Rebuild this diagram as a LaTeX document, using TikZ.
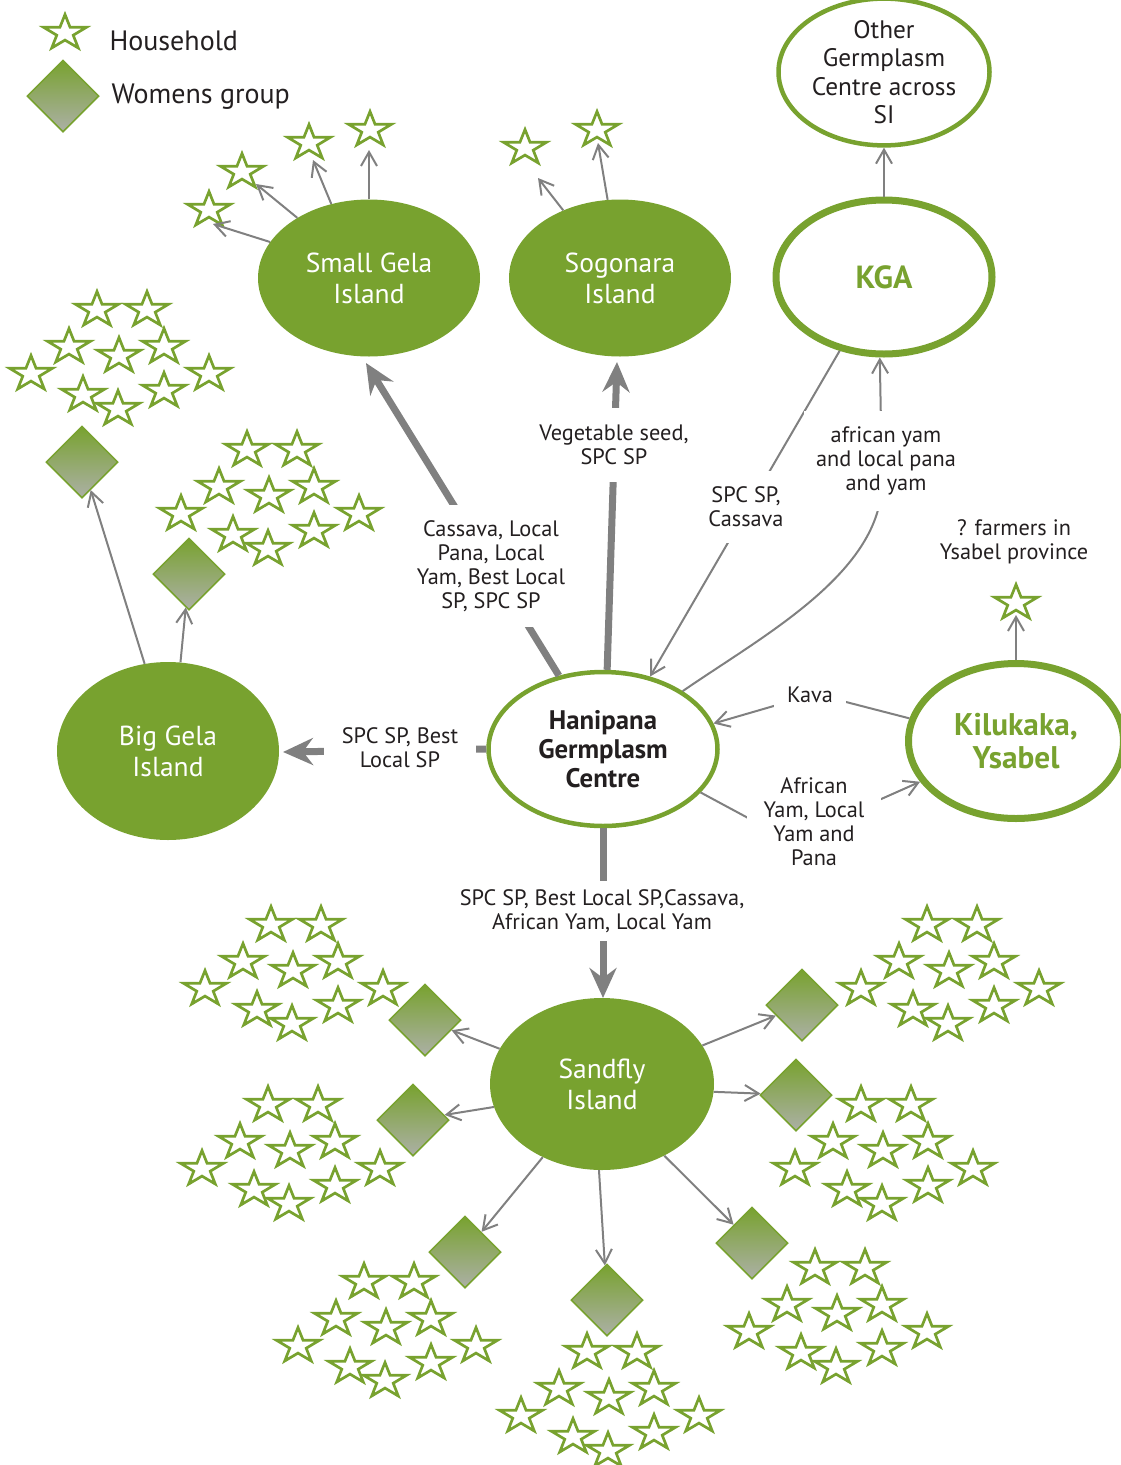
\documentclass[tikz,border=0pt]{standalone}
\usepackage{fontspec}
\setmainfont{PT Sans}
\usetikzlibrary{shapes.geometric,arrows.meta}
\definecolor{leaf}{RGB}{120,162,47}
\definecolor{arrowgray}{RGB}{128,128,128}
\definecolor{ink}{RGB}{35,31,32}
\definecolor{dimgreen}{RGB}{172,176,166}

% ten households around a womens group
\newcommand\starcluster[3]{%
  \foreach \dx/\dy [count=\i] in {0/0,50/0,-28/37,22/46,67/37,-66/64,112/64,-14/85,21/99,67/81}
    {\pic (#1\i) at ({#2+\dx},{#3+\dy}) {hstar};}}

\begin{document}
\begin{tikzpicture}[x=1pt,y=-1pt,
  starline/.style={draw=leaf, line width=2.7pt, fill=white, line join=miter},
  hstar/.pic={\path[starline] plot[samples at={0,...,9}, variable=\k]
      ({1.22*(7.1+11.4*(1-mod(\k,2)))*cos(90+36*\k)}, {-(7.1+11.4*(1-mod(\k,2)))*sin(90+36*\k)}) -- cycle;
      \coordinate (-c) at (0,0);},
  island/.style={ellipse, fill=leaf, text=white, align=center, inner sep=0,
      minimum width=222pt, minimum height=157pt, font=\fontsize{27.5}{31}\selectfont},
  hub/.style={ellipse, draw=leaf, fill=white, align=center, inner sep=0},
  group/.style={diamond, draw=leaf, line width=1.5pt, top color=leaf, bottom color=dimgreen,
      minimum width=72pt, minimum height=72pt, inner sep=0},
  lbl/.style={text=ink, align=center, font=\fontsize{22.3}{24}\selectfont, fill=white, inner sep=12pt},
  flow/.style={draw=arrowgray, line width=2pt, -{Straight Barb[length=14pt,width=16pt]}},
  bigflow/.style={draw=arrowgray, line width=7pt, -{Stealth[length=30pt,width=27pt,inset=10pt]}},
]
\useasboundingbox (0,0) rectangle (1120,1465);

% legend
\pic (legstar) at (65,33) {hstar};
\node[anchor=west, text=ink, font=\fontsize{28}{30}\selectfont] (leghh) at (106,41) {Household};
\node[group] (leggrp) at (63,96) {};
\node[anchor=west, text=ink, font=\fontsize{28}{30}\selectfont] (leggrptxt) at (108,97) {Womens group};

% islands and centres
\node[island] (small) at (369,278) {Small Gela\\Island};
\node[island] (sogo) at (620,278) {Sogonara\\Island};
\node[island, minimum height=178pt] (big) at (168,751) {Big Gela\\Island};
\node[island, minimum width=224pt, minimum height=172pt] (sand) at (602,1084) {Sandfly\\Island};
\node[hub, line width=7pt, minimum width=216pt, minimum height=154pt, text=leaf,
      font=\bfseries\fontsize{32}{33}\selectfont] (kga) at (884,277) {KGA};
\node[hub, line width=4.5pt, minimum width=211pt, minimum height=137pt, text=ink,
      font=\fontsize{25.3}{28.5}\selectfont] (other) at (884,72) {Other\\Germplasm\\Centre across\\SI};
\node[hub, line width=4.5pt, minimum width=229pt, minimum height=154pt, text=ink,
      font=\bfseries\fontsize{26.8}{29}\selectfont] (hani) at (603,749) {Hanipana\\Germplasm\\Centre};
\node[hub, line width=7pt, minimum width=215pt, minimum height=155pt, text=leaf,
      font=\bfseries\fontsize{31.3}{33}\selectfont] (kilu) at (1016,741) {Kilukaka,\\Ysabel};

% single households
\pic (sgA) at (209,210) {hstar};
\pic (sgB) at (242,172) {hstar};
\pic (sgC) at (309,143) {hstar};
\pic (sgD) at (370,130) {hstar};
\pic (soA) at (525,148) {hstar};
\pic (soB) at (597,130) {hstar};
\pic (ysA) at (1016,603) {hstar};

% womens groups
\node[group] (bg1) at (82,462) {};
\node[group] (bg2) at (189,574) {};
\node[group] (sf1) at (425,1020) {};
\node[group] (sf2) at (413,1120) {};
\node[group] (sf3) at (465,1252) {};
\node[group] (sf4) at (607,1300) {};
\node[group] (sf5) at (752,1243) {};
\node[group] (sf6) at (796,1095) {};
\node[group] (sf7) at (802,1005) {};

% household clusters
\starcluster{cA}{97}{310}
\starcluster{cB}{247}{450}
\starcluster{cC}{271}{925}
\starcluster{cD}{268}{1105}
\starcluster{cE}{364}{1282}
\starcluster{cF}{587}{1352}
\starcluster{cG}{815}{1268}
\starcluster{cH}{861}{1105}
\starcluster{cI}{927}{925}

% arrow tips
\coordinate (tsgA) at (213,224);
\coordinate (tsgB) at (256,184);
\coordinate (tsgC) at (313,160);
\coordinate (tsgD) at (369,150);
\coordinate (tsoA) at (538,178);
\coordinate (tsoB) at (598,143);
\coordinate (tysA) at (1016,615);
\coordinate (tsmall) at (366,363);
\coordinate (tsogo) at (617,362);
\coordinate (tbig) at (283,752);
\coordinate (tsand) at (603,998);
\coordinate (kavabend) at (815,694);
\coordinate (afrbend) at (789,840);

% main distribution flows
\draw[bigflow] (hani.121) -- (tsmall);
\draw[bigflow] (hani.87) -- (tsogo);
\draw[bigflow] (hani.west) -- (tbig);
\draw[bigflow] (hani.south) -- (tsand);

% other exchanges
\draw[flow] (kga.239) -- (hani.57);
\draw[flow] (hani.36.6) .. controls (764,635) and (883,572) .. (882,480) -- (kga.267);
\draw[flow] (kilu.168.5) -- (kavabend) -- (hani.13.7);
\draw[flow] (hani.-24.7) -- (afrbend) -- (kilu.203);
\draw[flow] (kga.north) -- (other.south);
\draw[flow] (kilu.north) -- (tysA);

\draw[flow] (small.160.5) -- (tsgA);
\draw[flow] (small.140.8) -- (tsgB);
\draw[flow] (small.117.5) -- (tsgC);
\draw[flow] (small.90.7) -- (tsgD);
\draw[flow] (sogo.130) -- (tsoA);
\draw[flow] (sogo.99.5) -- (tsoB);

\draw[flow] (big.105) -- (bg1);
\draw[flow] (big.82) -- (bg2);

\draw[flow] (sand.161) -- (sf1);
\draw[flow] (sand.192) -- (sf2);
\draw[flow] (sand.231) -- (sf3);
\draw[flow] (sand.268) -- (sf4);
\draw[flow] (sand.311.5) -- (sf5);
\draw[flow] (sand.356) -- (sf6);
\draw[flow] (sand.21) -- (sf7);

% flow labels
\node[lbl, inner ysep=15pt, inner xsep=4pt] (lcass) at (491,566) {Cassava, Local\\Pana, Local\\Yam, Best Local\\SP, SPC SP};
\node[lbl, inner ysep=17pt] (lveg) at (614,445) {Vegetable seed,\\SPC SP};
\node[lbl, inner xsep=18pt] (lbest) at (400,748) {SPC SP, Best\\Local SP};
\node[lbl, inner ysep=8pt] (lsand) at (602,911) {SPC SP, Best Local SP,Cassava,\\African Yam, Local Yam};
\node[lbl, inner sep=16pt] (lspc) at (746,507) {SPC SP,\\Cassava};
\node[lbl, inner ysep=16pt] (lafy) at (886,461) {african yam\\and local pana\\and yam};
\node[lbl, inner xsep=13pt] (lkava) at (810,695) {Kava};
\node[lbl, inner xsep=17pt] (lafr) at (814,822) {African\\Yam, Local\\Yam and\\Pana};
\node[lbl, inner sep=2pt] (lfarm) at (1014,542) {? farmers in\\Ysabel province};
\end{tikzpicture}
\end{document}
